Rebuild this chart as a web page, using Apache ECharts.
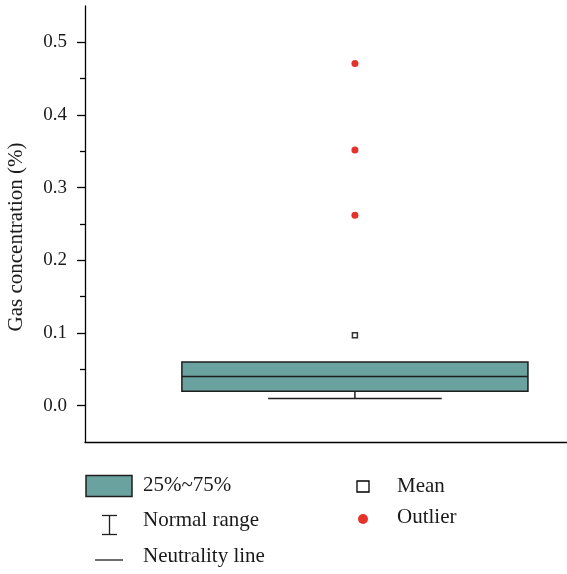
<!DOCTYPE html>
<html>
<head>
	<meta charset="utf-8">
	<title>Gas concentration</title>
	<script src="https://cdn.jsdelivr.net/npm/echarts@6/dist/echarts.min.js"></script>
	<style>
		html, body { margin: 0; padding: 0; background: #fff; }
		#main { width: 567px; height: 574px; }
	</style>
</head>
<body>
	<div id="main"></div>
<script type="text/javascript">
	// box statistics: q1, median, q3
	var boxStats = [0.02, 0.04, 0.06];
	// whisker (normal range): low, high
	var whisker = [0.01, 0.06];
	var meanValue = [0.097];
	var outliers = [0.262, 0.352, 0.471];
	var yTicks = [0, 0.1, 0.2, 0.3, 0.4, 0.5];
	var yMinorTicks = [0.05, 0.15, 0.25, 0.35, 0.45];
	var legendNames = ['25%~75%', 'Normal range', 'Neutrality line', 'Mean', 'Outlier'];

	var FONT = '"Liberation Serif", "Times New Roman", serif';
	var TEAL = '#69a29f';
	var RED = '#e5322a';
	var XC = 0.56;      // box centre on the hidden x scale
	var BOX_HW = 0.359;
	var CAP_HW = 0.18;

	var chart = echarts.init(document.getElementById('main'));

	//箱体
	function renderBox(params, api){
		var lt = api.coord([XC - BOX_HW, boxStats[2]]);
		var rb = api.coord([XC + BOX_HW, boxStats[0]]);
		return {
			type: 'rect',
			shape: {x: lt[0], y: lt[1], width: rb[0] - lt[0], height: rb[1] - lt[1]},
			style: {fill: TEAL, stroke: '#1e1e1e', lineWidth: 1.5}
		};
	}

	//中位线
	function renderMedian(params, api){
		var a = api.coord([XC - BOX_HW, boxStats[1]]);
		var b = api.coord([XC + BOX_HW, boxStats[1]]);
		return {
			type: 'line',
			shape: {x1: a[0], y1: a[1], x2: b[0], y2: b[1]},
			style: {stroke: '#1e1e1e', lineWidth: 1.5}
		};
	}

	//须线
	function renderWhisker(params, api){
		var bot = api.coord([XC, boxStats[0]]);
		var low = api.coord([XC, whisker[0]]);
		var cl = api.coord([XC - CAP_HW, whisker[0]]);
		var cr = api.coord([XC + CAP_HW, whisker[0]]);
		return {
			type: 'group',
			children: [
				{type: 'line', shape: {x1: bot[0], y1: bot[1], x2: low[0], y2: low[1]}, style: {stroke: '#1e1e1e', lineWidth: 1.5}},
				{type: 'line', shape: {x1: cl[0], y1: cl[1], x2: cr[0], y2: cr[1]}, style: {stroke: '#1e1e1e', lineWidth: 1.5}}
			]
		};
	}

	var legendFont = '21px ' + FONT;

	var option = {
		animation: false,
		backgroundColor: '#fff',
		grid: {left: 85, right: 0, top: 6, bottom: 132, outerBoundsMode: 'none', containLabel: false},
		xAxis: {
			type: 'value', min: 0, max: 1,
			axisLine: {show: true, onZero: false, lineStyle: {color: '#000', width: 1.3}},
			axisTick: {show: false}, axisLabel: {show: false}, splitLine: {show: false}
		},
		yAxis: [{
			type: 'value', min: -0.05, max: 0.55,
			name: 'Gas concentration (%)',
			nameLocation: 'middle', nameGap: 58, nameRotate: 90,
			nameTextStyle: {fontFamily: FONT, fontSize: 21, color: '#1a1a1a', padding: [0, 26, 0, 0]},
			axisLine: {show: true, onZero: false, lineStyle: {color: '#000', width: 1.3}},
			axisTick: {show: true, length: 8, customValues: yTicks, lineStyle: {color: '#000', width: 1.3}},
			axisLabel: {
				customValues: yTicks, margin: 18,
				fontFamily: FONT, fontSize: 19, color: '#1a1a1a',
				formatter: function(v){ return v.toFixed(1); }
			},
			splitLine: {show: false}
		}, {
			type: 'value', min: -0.05, max: 0.55, position: 'left', offset: 0,
			axisLine: {show: false, onZero: false},
			axisTick: {show: true, length: 5, customValues: yMinorTicks, lineStyle: {color: '#000', width: 1.3}},
			axisLabel: {show: false},
			splitLine: {show: false}
		}],
		series: [{
			name: legendNames[0], type: 'custom', renderItem: renderBox, data: [boxStats], z: 2
		}, {
			name: legendNames[1], type: 'custom', renderItem: renderWhisker, data: [whisker], z: 2
		}, {
			name: legendNames[2], type: 'custom', renderItem: renderMedian, data: [boxStats], z: 3
		}, {
			name: legendNames[3], type: 'scatter', symbol: 'rect', symbolSize: 5,
			itemStyle: {color: '#fff', borderColor: '#000', borderWidth: 1.5},
			data: meanValue.map(function(v){ return [XC, v]; }), z: 4
		}, {
			name: legendNames[4], type: 'scatter', symbol: 'circle', symbolSize: 7,
			itemStyle: {color: RED, opacity: 1},
			data: outliers.map(function(v){ return [XC, v]; }), z: 4
		}],
		graphic: [
			{type: 'rect', shape: {x: 86, y: 475.5, width: 46, height: 21}, style: {fill: TEAL, stroke: '#1e1e1e', lineWidth: 1.5}},
			{type: 'text', x: 143, y: 485, style: {text: legendNames[0], font: legendFont, fill: '#1a1a1a', verticalAlign: 'middle'}},
			{type: 'polyline', shape: {points: [[102, 515.5], [117, 515.5]]}, style: {stroke: '#1e1e1e', lineWidth: 1.3}},
			{type: 'polyline', shape: {points: [[109.5, 515.5], [109.5, 534.5]]}, style: {stroke: '#1e1e1e', lineWidth: 1.3}},
			{type: 'polyline', shape: {points: [[102, 534.5], [117, 534.5]]}, style: {stroke: '#1e1e1e', lineWidth: 1.3}},
			{type: 'text', x: 143, y: 520, style: {text: legendNames[1], font: legendFont, fill: '#1a1a1a', verticalAlign: 'middle'}},
			{type: 'polyline', shape: {points: [[95, 560], [123, 560]]}, style: {stroke: '#1e1e1e', lineWidth: 1.3}},
			{type: 'text', x: 143, y: 556, style: {text: legendNames[2], font: legendFont, fill: '#1a1a1a', verticalAlign: 'middle'}},
			{type: 'rect', shape: {x: 357, y: 481, width: 12, height: 11}, style: {fill: '#fff', stroke: '#000', lineWidth: 1.3}},
			{type: 'text', x: 397, y: 486, style: {text: legendNames[3], font: legendFont, fill: '#1a1a1a', verticalAlign: 'middle'}},
			{type: 'circle', shape: {cx: 363, cy: 519, r: 5}, style: {fill: RED}},
			{type: 'text', x: 397, y: 517, style: {text: legendNames[4], font: legendFont, fill: '#1a1a1a', verticalAlign: 'middle'}}
		]
	};

	chart.setOption(option);
</script>
</body>
</html>
